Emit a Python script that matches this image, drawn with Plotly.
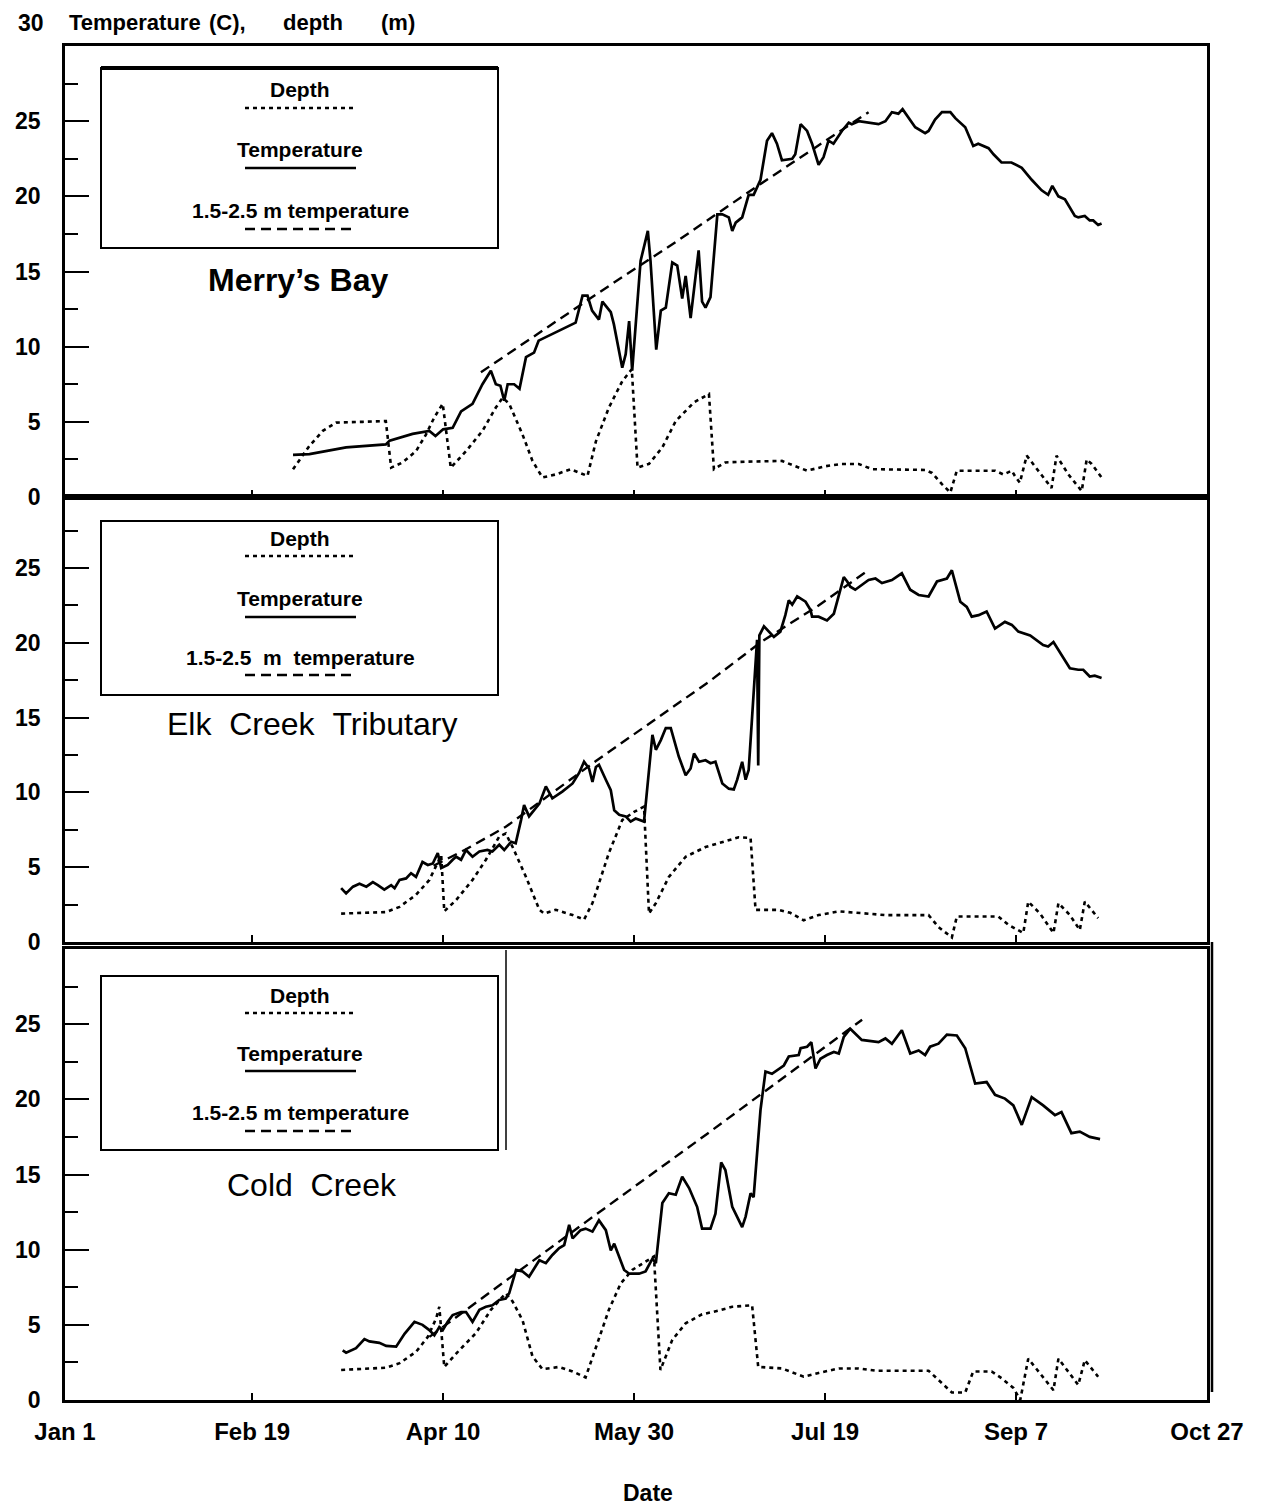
import plotly.graph_objects as go

# ---------------- data (x = days after Jan 1) ----------------
tick_days = [0, 49, 99, 149, 199, 249, 299]
tick_labels = ["Jan 1", "Feb 19", "Apr 10", "May 30", "Jul 19", "Sep 7", "Oct 27"]

site_names = ["Merry\u2019s Bay", "Elk\u00a0\u00a0Creek\u00a0\u00a0Tributary", "Cold\u00a0\u00a0Creek"]

# Merry's Bay
merry_temp_day = [59.7, 64, 73.6, 84, 85, 87, 91, 95.4, 97, 99, 101.5, 103.7, 106.7, 109.3, 111.5, 112.8,
                  114, 115, 115.9, 117.6, 119, 120.7, 122.8, 124, 132.9, 133.7, 135.5, 136.8, 138, 139.8,
                  140.7, 142.9, 143.7, 145.9, 146.8, 147.7, 148.5, 150.7, 152.6, 153.3, 154.8, 156, 157.3,
                  159, 160.3, 161.6, 162.5, 163.8, 165.9, 166.8, 167.7, 169.0, 170.8, 172.1, 173.8, 174.7,
                  175.6, 177.3, 179.0, 180.3, 182.1, 183.8, 185.1, 186.4, 187.7, 190.4, 191.2, 192.6, 194.3,
                  195.6, 197.3, 198.6, 199.9, 201.2, 203.4, 205.2, 206.0, 207.8, 213.0, 214.8, 216.5, 218.2,
                  219.3, 220.9, 222.6, 225.2, 226.1, 227.8, 229.6, 231.8, 233.1, 235.7, 237.8, 239.1, 241.8,
                  243.1, 245.2, 247.8, 250.5, 253.1, 255.7, 257.4, 258.5, 260.1, 261.8, 264.4, 265.3, 267.0,
                  268.3, 269.2, 270.5, 271.4]
merry_temp = [2.8, 2.85, 3.3, 3.5, 3.75, 3.9, 4.2, 4.4, 4.06, 4.5, 4.6, 5.7, 6.2, 7.5, 8.4, 7.5,
              7.4, 6.4, 7.5, 7.5, 7.2, 9.3, 9.6, 10.4, 11.5, 11.6, 13.4, 13.4, 12.4, 11.8,
              13.0, 12.3, 11.5, 8.6, 9.5, 11.7, 8.4, 15.7, 17.7, 15.7, 9.8, 12.4, 12.6,
              15.6, 15.4, 13.2, 14.7, 11.9, 16.4, 13.0, 12.6, 13.3, 18.8, 18.8, 18.6, 17.7,
              18.25, 18.6, 20.1, 20.1, 21.1, 23.7, 24.2, 23.5, 22.4, 22.5, 22.8, 24.8, 24.35,
              23.5, 22.1, 22.6, 23.7, 23.5, 24.35, 24.9, 24.8, 25.0, 24.8, 25.0, 25.6, 25.5,
              25.8, 25.2, 24.6, 24.2, 24.35, 25.1, 25.6, 25.6, 25.2, 24.6, 23.35, 23.5, 23.2,
              22.8, 22.25, 22.25, 21.9, 21.1, 20.4, 20.1, 20.7, 20.0, 19.8, 18.7, 18.6, 18.7,
              18.4, 18.4, 18.1, 18.2]
merry_shallow_day = [108.9, 139.8, 160.7, 180.8, 210.4]
merry_shallow = [8.3, 13.6, 17.1, 20.6, 25.6]
merry_depth_day = [59.7, 64, 67.5, 71, 78, 84, 85.4, 88.4, 91.9, 94.5, 96.7, 98.9, 101, 105, 109.3, 112.8,
                   114.6, 116.3, 119.8, 122.4, 125, 128.5, 132.4, 134.6, 136.8, 139, 142.4, 145.9, 148.4,
                   149.9, 152.9, 156.4, 159.9, 164.7, 168.6, 169.9, 172.9, 178.2, 187.7, 191.2, 194.3,
                   199.1, 203.4, 207.8, 211.3, 225.2, 227, 229.6, 231.8, 233.5, 243.5, 245.7, 247.9,
                   248.7, 250, 251.8, 255.7, 258.3, 259.6, 262.7, 266.2, 267.5, 268.8, 271.4]
merry_depth = [1.85, 3.4, 4.4, 4.95, 5.0, 5.05, 1.95, 2.3, 3.05, 4.15, 5.3, 6.2, 1.95, 3.05, 4.4, 5.95,
               6.6, 6.2, 4.15, 2.4, 1.3, 1.5, 1.85, 1.6, 1.4, 3.7, 5.95, 7.7, 8.5,
               1.95, 2.2, 3.3, 5.05, 6.3, 6.85, 1.85, 2.3, 2.35, 2.4, 2.05, 1.75,
               2.05, 2.2, 2.2, 1.85, 1.8, 1.6, 0.85, 0.3, 1.75, 1.75, 1.5, 1.75,
               1.4, 0.95, 2.75, 1.5, 0.6, 2.75, 1.5, 0.4, 2.5, 2.2, 1.3]

# Elk Creek Tributary
elk_temp_day = [72.3, 73.6, 75.4, 77.1, 78.9, 80.6, 81.9, 83.6, 85.4, 86.3, 87.6, 89.3, 90.6, 91.9, 93.6,
                95, 96.3, 97.6, 98.5, 100.2, 101.5, 102.4, 103.7, 105, 106.7, 108.5, 110.6, 111.9, 113.7,
                115, 116.8, 118, 119.4, 120.2, 121.5, 124.2, 125.9, 127.6, 130.2, 132.9, 134.6, 135.9,
                137.2, 138.1, 139, 139.8, 141.6, 142.9, 143.8, 145.1, 146.8, 148.1, 149.4, 151.6, 153.8,
                154.7, 156, 157.3, 158.6, 160.7, 162.5, 163.8, 164.7, 166, 167.7, 169, 170.3, 172.1,
                173.8, 175.1, 176.0, 177.3, 178.2, 179.0, 179.9, 181.2, 181.5, 181.8, 183.0, 185.6,
                187.3, 188.6, 189.5, 190.4, 191.7, 193.9, 195.2, 195.6, 197.3, 199.5, 201.3, 202.6,
                203.9, 204.8, 205.6, 206.9, 208.6, 210.4, 212.2, 213.9, 216.5, 219.1, 221.3, 223.5,
                226.1, 228.3, 230.9, 232.2, 234.4, 236.1, 237.4, 239.2, 241.3, 243.5, 246.1, 247.9,
                249.6, 252.7, 256.1, 257.4, 258.8, 260.9, 263.1, 265.3, 266.6, 268.3, 269.6, 271.4]
elk_temp = [3.6, 3.25, 3.7, 3.9, 3.7, 4.0, 3.8, 3.5, 3.8, 3.6, 4.15, 4.25, 4.6, 4.35, 5.35,
            5.15, 5.25, 5.95, 4.95, 5.15, 5.5, 5.7, 5.5, 6.15, 5.7, 6.05, 6.15, 6.05, 6.5,
            6.15, 6.7, 6.6, 8.15, 9.15, 8.4, 9.25, 10.4, 9.6, 10.05, 10.6, 11.3, 12.05,
            11.6, 10.7, 11.7, 11.85, 10.85, 10.15, 8.8, 8.5, 8.4, 8.05, 8.25, 8.05, 13.85,
            12.85, 13.5, 14.3, 14.3, 12.4, 11.15, 11.6, 12.6, 12.05, 12.15, 11.95, 12.05, 10.6,
            10.25, 10.2, 10.85, 12.05, 10.85, 11.5, 15.05, 20.2, 11.8, 20.5, 21.1, 20.4,
            20.75, 21.85, 22.85, 22.55, 23.1, 22.75, 22.2, 21.75, 21.75, 21.5, 21.95, 23.1,
            24.4, 24.1, 23.75, 23.55, 23.85, 24.2, 24.3, 24.0, 24.2, 24.65, 23.55, 23.2,
            23.1, 24.1, 24.3, 24.85, 22.75, 22.4, 21.75, 21.85, 22.1, 20.95, 21.4, 21.2,
            20.75, 20.5, 19.85, 19.75, 20.05, 19.2, 18.3, 18.2, 18.2, 17.75, 17.8, 17.65]
elk_shallow_day = [96.5, 105, 115.4, 139, 168.6, 182.5, 197.3, 210]
elk_shallow = [5.1, 6.2, 7.7, 12.1, 17.4, 20.1, 22.5, 24.8]
elk_depth_day = [72.3, 84.1, 87.6, 91.9, 95.4, 97.2, 98.5, 99.3, 102.4, 106.7, 110.2, 113.7, 115.4, 117.2,
                 120.7, 124.2, 125.5, 128.5, 132.9, 135.9, 138.1, 142.4, 145.9, 149, 151.6, 152.9, 154.7,
                 158.1, 162.5, 167.7, 171.2, 176.4, 179.5, 180.8, 186.9, 189.9, 193.4, 197.3, 202.6,
                 207.8, 214.8, 226.1, 228.7, 232.2, 233.5, 244.4, 247, 250.9, 252.2, 255.3, 258.8,
                 260.1, 263.1, 265.7, 267, 270.5]
elk_depth = [1.9, 2.0, 2.35, 3.15, 4.15, 5.15, 5.8, 2.05, 2.8, 4.15, 5.5, 7.05, 7.25, 6.35,
             4.35, 2.15, 1.9, 2.15, 1.8, 1.5, 2.6, 5.95, 8.15, 8.7, 9.05, 1.9, 2.6,
             4.35, 5.7, 6.35, 6.6, 7.0, 6.95, 2.15, 2.15, 1.95, 1.45, 1.8, 2.05,
             1.95, 1.8, 1.8, 1.0, 0.3, 1.7, 1.7, 1.15, 0.6, 2.7, 1.9, 0.6,
             2.6, 1.8, 0.8, 2.7, 1.6]

# Cold Creek
cold_temp_day = [72.7, 73.6, 76.2, 78.4, 79.7, 82.3, 84.1, 86.7, 88.9, 91.5, 93.6, 95.4, 96.7, 98, 98.9,
                 100.2, 101.5, 103.7, 105, 106.7, 108.5, 110.2, 111.9, 113.7, 115.4, 116.3, 118.1, 119.8,
                 121.5, 122.8, 124.2, 125.9, 127.6, 129.4, 130.7, 132, 132.9, 135, 136.3, 138.1, 139.8,
                 141.6, 142.9, 143.8, 145.1, 146.4, 147.7, 150.3, 152, 153.8, 154.7, 156.4, 158.1, 159.9,
                 161.6, 163.4, 165.5, 166.8, 169, 170.3, 171.8, 172.9, 174.7, 176.0, 177.3, 178.2, 179.5,
                 180.3, 181.2, 182.1, 183.4, 185.1, 188.2, 189.5, 192.1, 192.6, 194.3, 195.4, 196.5,
                 197.8, 199.5, 201.3, 202.6, 203.9, 205.6, 208.6, 213.0, 214.8, 216.5, 219.1, 221.3,
                 223.5, 225.2, 226.5, 228.7, 230.9, 233.5, 235.7, 238.3, 241.3, 243.5, 246.1, 248.3,
                 250.5, 253.1, 256.1, 259.2, 260.9, 263.5, 265.7, 268.3, 271.0]
cold_temp = [3.3, 3.15, 3.45, 4.05, 3.9, 3.8, 3.6, 3.55, 4.4, 5.2, 5.0, 4.65, 4.3, 4.85, 4.65,
             5.2, 5.65, 5.85, 5.85, 5.2, 6.0, 6.2, 6.3, 6.65, 6.75, 7.1, 8.65, 8.55,
             8.2, 8.75, 9.3, 9.1, 9.65, 10.1, 10.3, 11.65, 10.75, 11.3, 11.4, 11.2, 11.95,
             11.3, 9.95, 10.4, 9.55, 8.65, 8.4, 8.4, 8.55, 9.4, 9.1, 13.1, 13.75, 13.65,
             14.85, 14.1, 12.85, 11.4, 11.4, 12.4, 15.8, 15.3, 12.85, 12.2, 11.5, 12.2, 13.75,
             13.5, 16.4, 19.3, 21.85, 21.7, 22.25, 22.85, 22.95, 23.4, 23.5, 23.8, 22.05,
             22.7, 22.95, 23.15, 23.05, 24.15, 24.7, 23.95, 23.8, 24.05, 23.7, 24.6, 23.05,
             23.25, 22.95, 23.5, 23.7, 24.3, 24.25, 23.4, 21.05, 21.15, 20.3, 20.05, 19.6,
             18.3, 20.15, 19.6, 18.95, 19.15, 17.75, 17.85, 17.5, 17.35]
cold_shallow_day = [95.4, 136.4, 168.1, 208.7]
cold_shallow = [4.2, 11.85, 17.7, 25.3]
cold_depth_day = [72.3, 84.1, 87.6, 91.9, 95, 97.2, 98, 99.3, 103.2, 107.6, 111.5, 115.4, 117.2, 119.8,
                  122.4, 125, 129.4, 132.9, 136.3, 139.4, 142.4, 145.5, 148.5, 152, 154.2, 155.9, 159,
                  162.5, 166.8, 171.2, 174.7, 179.9, 181.5, 187.7, 193.4, 197.3, 202.6, 207.8, 212.2,
                  226.1, 229.6, 232.2, 235.7, 237.8, 242.6, 245.2, 248.3, 250.1, 252.2, 255.7, 258.8,
                  260.1, 262.7, 265.3, 267, 270.5]
cold_depth = [2.0, 2.15, 2.45, 3.2, 4.2, 5.45, 6.2, 2.2, 3.3, 4.45, 6.0, 7.1, 6.55, 5.3,
              2.9, 2.05, 2.2, 1.9, 1.5, 3.75, 6.0, 7.75, 8.65, 9.2, 9.55, 2.0, 4.0,
              5.1, 5.7, 5.95, 6.2, 6.3, 2.2, 2.1, 1.55, 1.8, 2.1, 2.1, 1.95,
              1.95, 1.1, 0.5, 0.5, 1.9, 1.9, 1.45, 0.8, 0.0, 2.75, 1.65, 0.65,
              2.75, 1.9, 1.0, 2.65, 1.55]

legend_labels = ["Depth", "Temperature", "1.5-2.5 m temperature"]

# ---------------- page geometry ----------------
W, H = 1274, 1508
ML, MR, MT, MB = 65, 67, 46, 108
PW, PH = W - ML - MR, H - MT - MB


def fx(px):
    return (px - ML) / PW


def fy(py):
    return (H - MB - py) / PH


# pixel bands of the three stacked panels (top, bottom) and their value ranges
panel_px = [(46, 497), (497, 942), (949, 1400)]
panel_top = [30, 29.75, 30]
panel_ticks = [0, 5, 10, 15, 20, 25]

FONT = "Liberation Sans, Arial, Helvetica, sans-serif"
DOT = "4px,4px"
DASH = "10px,6px"

series = [
    (merry_temp_day, merry_temp, merry_shallow_day, merry_shallow, merry_depth_day, merry_depth),
    (elk_temp_day, elk_temp, elk_shallow_day, elk_shallow, elk_depth_day, elk_depth),
    (cold_temp_day, cold_temp, cold_shallow_day, cold_shallow, cold_depth_day, cold_depth),
]

fig = go.Figure()
for i, (td, tv, sd, sv, dd, dv) in enumerate(series):
    xa, ya = f"x{i + 1}", f"y{i + 1}"
    fig.add_trace(go.Scatter(x=dd, y=dv, mode="lines", xaxis=xa, yaxis=ya,
                             line=dict(color="black", width=2.6, dash=DOT), name=legend_labels[0]))
    fig.add_trace(go.Scatter(x=sd, y=sv, mode="lines", xaxis=xa, yaxis=ya,
                             line=dict(color="black", width=2.4, dash=DASH), name=legend_labels[2]))
    fig.add_trace(go.Scatter(x=td, y=tv, mode="lines", xaxis=xa, yaxis=ya,
                             line=dict(color="black", width=2.7), name=legend_labels[1]))

layout = dict(
    width=W, height=H, margin=dict(l=ML, r=MR, t=MT, b=MB),
    paper_bgcolor="white", plot_bgcolor="white", showlegend=False,
    font=dict(family=FONT, color="black"),
)

for i in range(3):
    top, bot = panel_px[i]
    k = "" if i == 0 else str(i + 1)
    layout["xaxis" + k] = dict(
        domain=[0, 1], anchor="y" + k, range=[0, 299],
        tickmode="array", tickvals=tick_days, ticktext=tick_labels,
        ticks="inside", ticklen=7, tickwidth=2, tickcolor="black",
        showticklabels=(i == 2), ticklabelstandoff=8,
        tickfont=dict(size=24, weight="bold", family=FONT),
        showline=True, linewidth=2.5, linecolor="black", mirror=True,
        showgrid=False, zeroline=False,
        **({} if i == 0 else {"matches": "x"}),
    )
    layout["yaxis" + k] = dict(
        domain=[fy(bot), fy(top)], anchor="x" + k, range=[0, panel_top[i]],
        tickmode="array", tickvals=panel_ticks,
        ticks="inside", ticklen=24, tickwidth=2, tickcolor="black",
        minor=dict(tick0=0, dtick=2.5, ticks="inside", ticklen=13, tickwidth=2, tickcolor="black"),
        ticklabelstandoff=17,
        tickfont=dict(size=23, weight="bold", family=FONT),
        showline=True, linewidth=2.5, linecolor="black", mirror=True,
        showgrid=False, zeroline=False,
    )

fig.update_layout(**layout)

ann = []
shapes = []

# axis titles (the value axis caption is set word by word) and the topmost value label
title_words = [("Temperature", 67), ("(C),", 207), ("depth", 281), ("(m)", 379)]
for word, left in title_words:
    ann.append(dict(text=f"<b>{word}</b>", x=fx(left), y=fy(22), xref="paper", yref="paper",
                    xanchor="left", yanchor="middle", showarrow=False,
                    font=dict(size=22, family=FONT)))
ann.append(dict(text="<b>30</b>", x=fx(46), y=fy(23), xref="paper", yref="paper",
                xanchor="right", yanchor="middle", showarrow=False, font=dict(size=23, family=FONT)))
ann.append(dict(text="<b>Date</b>", x=fx(648), y=fy(1493), xref="paper", yref="paper",
                xanchor="center", yanchor="middle", showarrow=False, font=dict(size=23, family=FONT)))

# per-panel key boxes and site names
box_px = [(68, 248), (521, 695), (976, 1150)]
key_text_y = [(89, 149, 211), (538, 598, 657), (995, 1053, 1112)]
key_line_y = [(108, 168, 229), (556, 617, 675), (1013, 1071, 1131)]
name_pos = [(298, 280), (312, 724), (312, 1185)]
name_bold = [True, False, False]
key_labels = [legend_labels,
              ["Depth", "Temperature", "1.5-2.5\u00a0\u00a0m\u00a0\u00a0temperature"],
              legend_labels]

for i in range(3):
    bt, bb = box_px[i]
    shapes.append(dict(type="rect", xref="paper", yref="paper", x0=fx(101), x1=fx(498),
                       y0=fy(bb), y1=fy(bt), line=dict(color="black", width=2)))
    if i == 0:
        shapes.append(dict(type="line", xref="paper", yref="paper", x0=fx(101), x1=fx(498),
                           y0=fy(bt), y1=fy(bt), line=dict(color="black", width=4)))
    for j, lab in enumerate(key_labels[i]):
        ann.append(dict(text=f"<b>{lab}</b>", x=fx(300), y=fy(key_text_y[i][j]),
                        xref="paper", yref="paper", xanchor="center", yanchor="middle",
                        showarrow=False, font=dict(size=21, family=FONT)))
    for j, dash in enumerate([DOT, "solid", DASH]):
        ly = fy(key_line_y[i][j])
        shapes.append(dict(type="line", xref="paper", yref="paper", x0=fx(245), x1=fx(356),
                           y0=ly, y1=ly, line=dict(color="black", width=2.4, dash=dash)))
    nx, ny = name_pos[i]
    txt = f"<b>{site_names[i]}</b>" if name_bold[i] else site_names[i]
    ann.append(dict(text=txt, x=fx(nx), y=fy(ny), xref="paper", yref="paper",
                    xanchor="center", yanchor="middle", showarrow=False,
                    font=dict(size=32, family=FONT)))

# extra frame rules on the lowest panel
shapes.append(dict(type="line", xref="paper", yref="paper", x0=fx(506), x1=fx(506),
                   y0=fy(1150), y1=fy(950), line=dict(color="black", width=1.5)))
shapes.append(dict(type="line", xref="paper", yref="paper", x0=fx(1212), x1=fx(1212),
                   y0=fy(1392), y1=fy(942), line=dict(color="black", width=2.5)))

fig.update_layout(annotations=ann, shapes=shapes)
fig.write_html("out.html")
